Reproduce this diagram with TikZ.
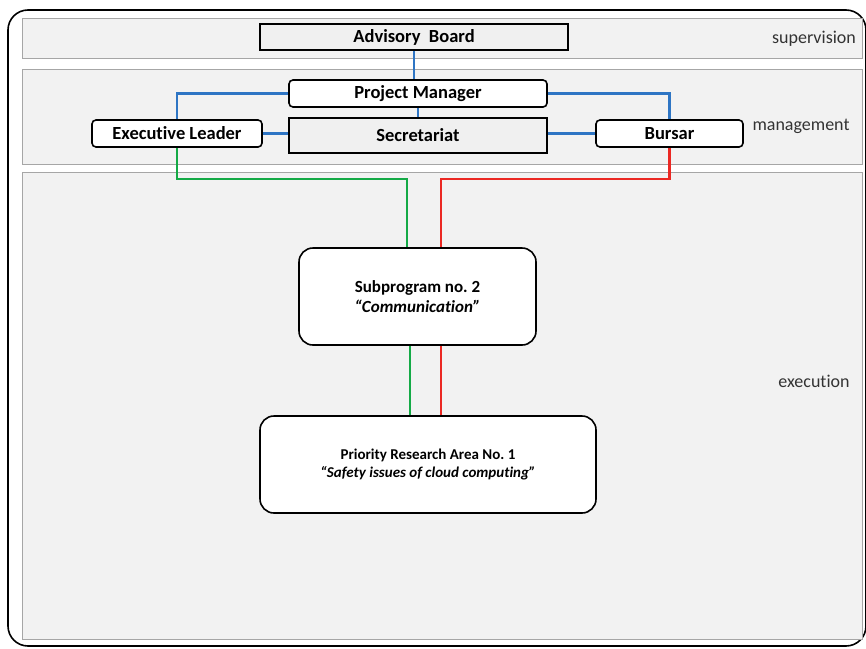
\documentclass[tikz,border=0pt]{standalone}
\usepackage{fontspec}
\setmainfont{Carlito}[Ligatures=NoCommon]
\definecolor{linkblue}{RGB}{46,117,196}
\definecolor{linkgreen}{RGB}{20,170,70}
\definecolor{linkred}{RGB}{235,40,35}
\begin{document}
\frenchspacing
\begin{tikzpicture}[x=1pt,y=-1pt,
  band/.style={draw=gray!70,fill=black!5,line width=1pt},
  sqbox/.style={draw=black,fill=black!6,line width=1.6pt,inner sep=0pt,font=\bfseries\fontsize{18.5}{20}\selectfont},
  rbox/.style={draw=black,fill=white,line width=1.6pt,rounded corners=4pt,inner sep=0pt,font=\bfseries\fontsize{18.5}{20}\selectfont},
  bigbox/.style={draw=black,fill=white,line width=1.6pt,rounded corners=14pt,inner sep=0pt,align=center},
  lbl/.style={text=black!80,font=\fontsize{18}{20}\selectfont},
  blueline/.style={draw=linkblue,line width=2.6pt},
  greenline/.style={draw=linkgreen,line width=2.4pt},
  redline/.style={draw=linkred,line width=2.4pt}]
\useasboundingbox (0,0) rectangle (866,648);
\begin{scope}
\clip (0,0) rectangle (866,648);
\draw[line width=1.6pt,rounded corners=20pt,fill=white] (8,10) rectangle (866,646);
\end{scope}
% layer bands
\draw[band] (22,18) rectangle (862,58);
\draw[band] (22,69) rectangle (862,164);
\draw[band] (22,172) rectangle (862,639);
\node[lbl] (sup) at (814,39) {supervision};
\node[lbl] (man) at (801,126) {management};
\node[lbl] (exe) at (814,381) {execution};
% boxes
\node[sqbox,minimum width=308pt,minimum height=26pt] (ab) at (414,37) {Advisory\ \ Board};
\node[rbox,minimum width=258pt,minimum height=27pt] (pm) at (418,93.5) {Project Manager};
\node[rbox,minimum width=170pt,minimum height=27pt] (el) at (177,133.5) {Executive Leader};
\node[sqbox,minimum width=258pt,minimum height=35pt] (sec) at (418,135.5) {Secretariat};
\node[rbox,minimum width=147pt,minimum height=27pt] (bu) at (669.5,133.5) {Bursar};
\node[bigbox,minimum width=237pt,minimum height=97pt] (sp) at (417.5,296.5)
  {\bfseries\fontsize{17}{21}\selectfont Subprogram no. 2\\[4pt]\fontsize{17}{21}\selectfont\bfseries\itshape ``Communication''};
\node[bigbox,minimum width=336pt,minimum height=97pt] (pr) at (428,464.5)
  {\bfseries\fontsize{15}{18}\selectfont Priority Research Area No. 1\\[4pt]\fontsize{15}{18}\selectfont\bfseries\itshape ``Safety issues of cloud computing''};
% management links
\draw[blueline] (ab.south) -- (ab.south |- pm.north);
\draw[blueline] (pm.south) -- (sec.north);
\draw[blueline] (pm.west) -| (el.north);
\draw[blueline] (pm.east) -| (bu.north);
\draw[blueline] (el.east) -- (el.east -| sec.west);
\draw[blueline] (bu.west -| sec.east) -- (bu.west);
% execution links
\coordinate (gtop) at (407,248);
\coordinate (rtop) at (441,248);
\draw[greenline] (el.south) |- (407,179) -- (sp.north -| gtop);
\draw[redline] (bu.south) |- (441,179) -- (sp.north -| rtop);
\draw[greenline] (sp.south -| 410,0) -- (pr.north -| 410,0);
\draw[redline] (sp.south -| 441,0) -- (pr.north -| 441,0);
\end{tikzpicture}
\end{document}
